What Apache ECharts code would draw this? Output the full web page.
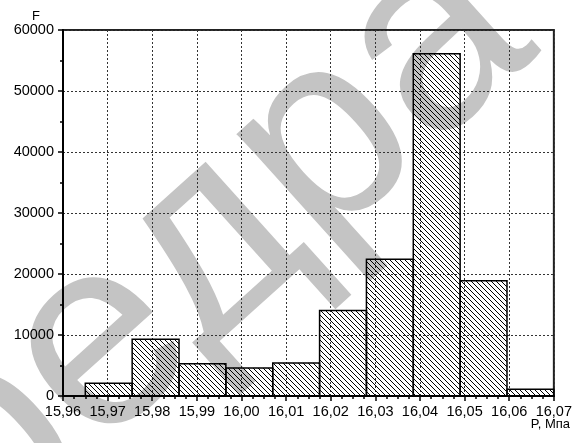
<!DOCTYPE html>
<html>
<head>
<meta charset="utf-8">
<script src="https://cdn.jsdelivr.net/npm/echarts@6/dist/echarts.min.js"></script>
<style>
  html, body { margin: 0; padding: 0; background: #fff; }
  #chart { width: 575px; height: 443px; }
</style>
</head>
<body>
<div id="chart"></div>
<script>
// Histogram of pressure readings: class boundaries and frequencies
const binEdges = [15.965, 15.9755, 15.986, 15.9965, 16.007, 16.0175, 16.028, 16.0385, 16.049, 16.0595, 16.07];
const frequencies = [2100, 9300, 5300, 4600, 5400, 14000, 22400, 56100, 18900, 1100];
const xTicks = { min: 15.96, max: 16.07, step: 0.01 };
const yTicks = { min: 0, max: 60000, step: 10000 };
const yName = 'F';
const xName = 'P, Мпа';
const stampText = 'кафедра';

// Diagonal hatch tile ("\\" direction) used as the bar fill
function makeHatch(size) {
  const c = document.createElement('canvas');
  c.width = size; c.height = size;
  const g = c.getContext('2d');
  g.strokeStyle = '#000';
  g.lineWidth = 1;
  g.beginPath();
  g.moveTo(-1, -1); g.lineTo(size + 1, size + 1);
  g.moveTo(-1, size - 1); g.lineTo(1, size + 1);
  g.moveTo(size - 1, -1); g.lineTo(size + 1, 1);
  g.stroke();
  return c;
}
const hatch = { image: makeHatch(5), repeat: 'repeat' };

const data = frequencies.map((f, i) => [binEdges[i], binEdges[i + 1], f]);

const fmtX = v => v.toFixed(2).replace('.', ',');
const labelFont = { fontFamily: 'Liberation Sans, Arial, sans-serif', fontSize: 14.5, color: '#000' };
const dotted = { color: '#333', width: 1, type: [2, 2] };

const chart = echarts.init(document.getElementById('chart'), null, { renderer: 'canvas' });
chart.setOption({
  animation: false,
  backgroundColor: '#fff',
  grid: { left: 63, right: 20, top: 30, bottom: 47, show: true, borderColor: '#222', borderWidth: 2 },
  graphic: [
    {
      type: 'text', z: -10,
      x: 84, y: 363, rotation: 42 * Math.PI / 180,
      style: {
        text: stampText, fill: '#c4c4c4',
        font: '270px "Liberation Sans", Arial, sans-serif',
        textAlign: 'center', textVerticalAlign: 'middle'
      }
    },
    { type: 'text', x: 36, y: 16, style: { text: yName, textAlign: 'center', textVerticalAlign: 'middle', font: '13px "Liberation Sans", Arial, sans-serif', fill: '#000' } },
    { type: 'text', x: 570, y: 424, style: { text: xName, textAlign: 'right', textVerticalAlign: 'middle', font: '13px "Liberation Sans", Arial, sans-serif', fill: '#000' } }
  ],
  xAxis: {
    type: 'value', min: xTicks.min, max: xTicks.max, interval: xTicks.step,
    axisLine: { show: true, onZero: false, lineStyle: { color: '#000', width: 2 } },
    axisTick: { show: true, length: 5, lineStyle: { color: '#000', width: 1.5 } },
    minorTick: { show: true, splitNumber: 4, length: 3, lineStyle: { color: '#000', width: 1.5 } },
    axisLabel: Object.assign({ margin: 8, formatter: fmtX, showMinLabel: true, showMaxLabel: true }, labelFont),
    splitLine: { show: true, lineStyle: dotted }
  },
  yAxis: {
    type: 'value', min: yTicks.min, max: yTicks.max, interval: yTicks.step,
    axisLine: { show: true, onZero: false, lineStyle: { color: '#000', width: 2 } },
    axisTick: { show: true, length: 5, lineStyle: { color: '#000', width: 1.5 } },
    minorTick: { show: true, splitNumber: 2, length: 3, lineStyle: { color: '#000', width: 1.5 } },
    axisLabel: Object.assign({ margin: 9, formatter: v => String(v) }, labelFont),
    splitLine: { show: true, lineStyle: dotted }
  },
  series: [{
    type: 'custom',
    data: data,
    encode: { x: [0, 1], y: 2 },
    renderItem: function (params, api) {
      const top = api.coord([api.value(0), api.value(2)]);
      const base = api.coord([api.value(1), 0]);
      return {
        type: 'rect',
        shape: { x: top[0], y: top[1], width: base[0] - top[0], height: base[1] - top[1] },
        style: { fill: hatch, stroke: '#000', lineWidth: 1.5 }
      };
    }
  }]
});
</script>
</body>
</html>
